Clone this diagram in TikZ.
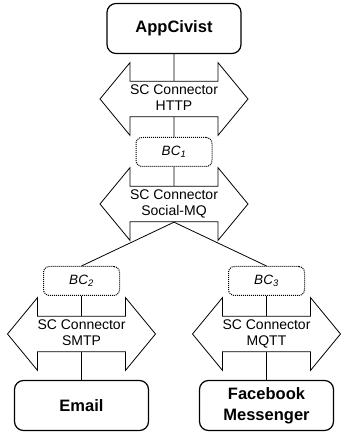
\documentclass[tikz,border=0pt]{standalone}
\usepackage{fontspec}
\setmainfont{Liberation Sans}
\usetikzlibrary{shapes.arrows}
\begin{document}
\begin{tikzpicture}[x=1pt,y=1pt]
\tikzstyle{every node}=[line width=0.8pt,align=center]
\tikzstyle{compbox}=[draw,line width=1.2pt,rounded corners=9pt,minimum width=134pt,minimum height=50pt,font=\fontsize{16.5}{21}\selectfont\bfseries]
\tikzstyle{bcbox}=[draw,dash pattern=on 1pt off 1pt,line width=1pt,rounded corners=6pt,minimum width=76pt,minimum height=29pt,font=\fontsize{13.5}{16}\selectfont\itshape]
\tikzstyle{scconn}=[draw,shape=double arrow,double arrow head extend=18.5pt,double arrow tip angle=101,minimum height=148pt,inner ysep=3pt,text depth=3pt,font=\fontsize{14}{16}\selectfont]
\useasboundingbox (0,0) rectangle (342,434);
\node[compbox] (app) at (174,405.5) {AppCivist}
  [sibling distance=185pt,
   level 1/.style={level distance=70.5pt},
   level 2/.style={level distance=53pt},
   level 3/.style={level distance=52pt},
   level 4/.style={level distance=77pt},
   level 5/.style={level distance=53pt},
   level 6/.style={level distance=71.5pt},
   edge from parent/.style={draw,line width=0.8pt},
   edge from parent path={(\tikzparentnode.south) -- (\tikzchildnode.north)}]
  child {node[scconn] (http) {SC Connector\\HTTP}
    child {node[bcbox] (bc1) {BC\textsubscript{1}}
      child {node[scconn] (socmq) {SC Connector\\Social-MQ}
        child {node[bcbox] (bc2) {BC\textsubscript{2}}
          child {node[scconn] (smtp) {SC Connector\\SMTP}
            child {node[compbox] (email) {Email}}}}
        child {node[bcbox] (bc3) {BC\textsubscript{3}}
          child {node[scconn] (mqtt) {SC Connector\\MQTT}
            child {node[compbox] (fbm) {Facebook\\Messenger}}}}}}};
\end{tikzpicture}
\end{document}
